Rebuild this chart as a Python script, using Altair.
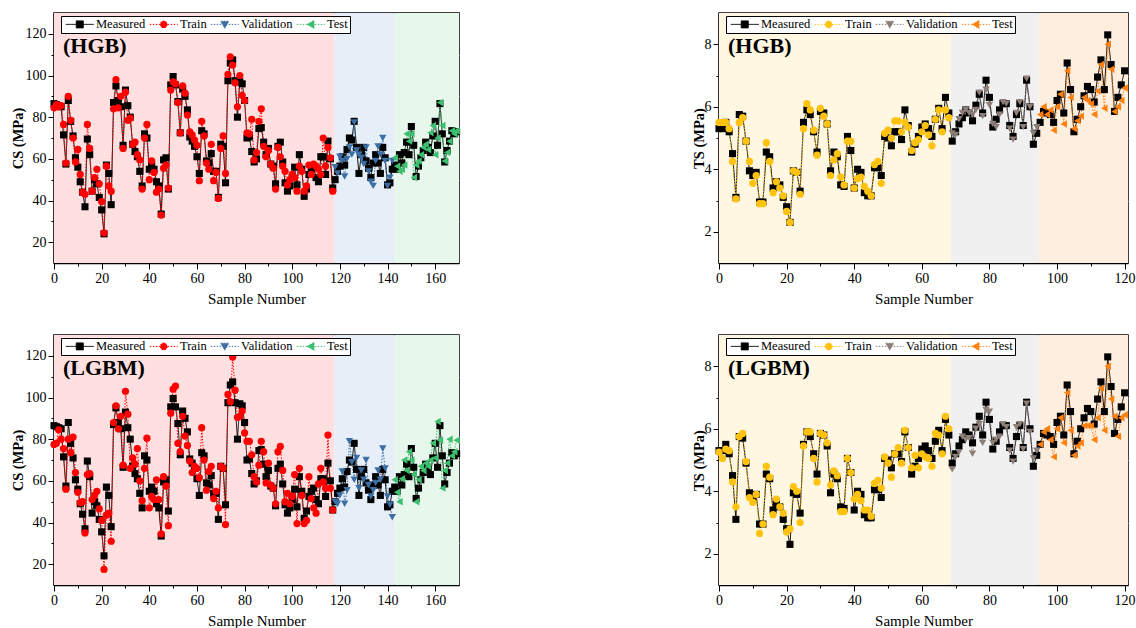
import altair as alt
import pandas as pd

# ---------------- data ----------------
SERIES = ["Measured", "Train", "Validation", "Test"]
REGIONS = ["Train", "Validation", "Test"]

CS_MEASURED = [
    86.5, 86, 85.5, 85, 71.5, 57.5, 88, 78, 71, 60.5,
    56, 49, 44, 37, 69.5, 62, 44.5, 50, 48, 41.5,
    35.5, 24, 57, 53, 38, 87, 95, 88, 85, 66.5,
    93, 85.5, 80, 67, 63.5, 61, 54, 47, 72, 70,
    55, 57, 55, 49, 47, 33.5, 59.5, 60.5, 45.5, 95.5,
    99.5, 95.5, 87.5, 72.5, 93.5, 90, 83.5, 70.5, 68.5, 66,
    61, 53, 73.5, 72, 59, 58, 62.5, 54, 54, 41.5,
    67, 66, 48.5, 97.5, 106, 107.5, 97.5, 80, 97, 96,
    88, 70, 70.5, 63.5, 58.5, 60, 74.5, 75, 68, 62,
    65, 57.5, 56.5, 48, 66, 68, 58.5, 48.5, 44.5, 47,
    51, 56, 47.5, 62, 55, 42, 45.5, 52.5, 55, 56.5,
    51, 49, 61, 61, 52.5, 68.5, 60, 46, 50, 54,
    56.5, 61, 57, 64.5, 70, 69, 78, 65.5, 53, 62,
    65.5, 59, 55.5, 51, 58, 62, 58, 53, 65.5, 60.5,
    47.5, 48.5, 55, 57, 55, 62, 58, 63, 68, 62,
    75.5, 66.5, 51.5, 56.5, 60.5, 64, 68, 65.5, 63, 71,
    78, 66.5, 86.5, 72, 58.5, 64, 68.5, 73.5, 72, 73,
]
CS_HGB = [
    84.5, 86, 85, 85.5, 76.5, 58, 90, 78.5, 70, 58.5,
    64.5, 52.5, 44, 43, 76.5, 65, 44.5, 51, 55, 48,
    39.5, 24.5, 56.5, 47, 44.5, 84, 98, 84.5, 90, 65,
    92, 78.5, 79.5, 67, 68, 62, 59.5, 45.5, 70, 76.5,
    50, 59, 53.5, 44, 45.5, 33, 55.5, 57, 46, 93,
    97, 96, 87, 72.5, 95, 91.5, 81, 73, 71.5, 69,
    66.5, 49.5, 78, 71, 58, 55, 67, 49.5, 53.5, 41,
    65, 71, 53, 100.5, 109, 105, 96.5, 85, 100, 90.5,
    88, 72.5, 72, 79, 59.5, 63, 78, 84, 66, 61,
    64, 57.5, 55.5, 45.5, 65.5, 61, 56.5, 54, 47.5, 50,
    52.5, 51, 44.5, 56.5, 54, 44.5, 47, 57, 52.5, 57.5,
    56.5, 55, 52.5, 70, 56.5, 65.5, 60.5, 44.5, 56, 53,
    61, 59, 51.5, 60, 65.5, 62, 77.5, 64, 62, 60.5,
    57.5, 65.5, 54, 49, 47, 59, 66, 62, 70, 59,
    47, 51, 59, 60.5, 56.5, 54, 55, 57, 72, 68.5,
    72, 51, 57, 59, 62, 65.5, 67, 64.5, 72.5, 76,
    62, 70, 87, 76, 59, 63, 68.5, 73.5, 72, 73.5,
]
CS_LGBM = [
    77.5, 78, 84.5, 80, 75.5, 56, 80, 73.5, 81, 64,
    54.5, 49.5, 50, 35, 63, 63.5, 51, 53, 55, 46.5,
    41, 17.5, 43.5, 44.5, 31, 88, 96, 85, 91, 67.5,
    103, 92, 66, 71, 68, 75.5, 60, 50.5, 66, 80.5,
    47, 52.5, 51, 60.5, 51, 34.5, 62, 57.5, 38.5, 92.5,
    104, 105.5, 78, 74, 91, 81.5, 77, 69.5, 64, 67,
    66, 61.5, 85.5, 70, 55.5, 64.5, 67, 51.5, 55, 47,
    67, 66, 39, 101.5, 98, 119.5, 103.5, 90.5, 91, 93.5,
    83, 79, 79, 72.5, 62, 59.5, 67.5, 79, 74, 59,
    68.5, 58, 56.5, 49, 74, 76.5, 65, 50, 54, 49,
    52.5, 63, 39.5, 66, 53, 39.5, 41, 62, 51.5, 47,
    44.5, 58.5, 66, 59.5, 56.5, 82, 56.5, 46, 50, 49,
    53, 64.5, 49, 55.5, 79, 69, 60.5, 71, 56.5, 65,
    60.5, 70, 58, 52.5, 55.5, 59, 65, 60.5, 75.5, 66,
    52.5, 48.5, 42.5, 60.5, 54.5, 50, 61, 70, 65, 74,
    70, 63, 50, 60.5, 67, 65, 68.5, 67, 70, 78,
    71, 88.5, 79.5, 56.5, 65, 68.5, 80, 72, 74, 79.5,
]
CS_BOUNDS = [0, 117.7, 143, 170]

TS_MEASURED = [
    5.3, 5.3, 5.5, 5.2, 4.5, 3.1, 5.75, 5.7, 4.9, 3.95,
    3.8, 3.9, 2.95, 2.95, 4.55, 4.4, 3.4, 3.6, 3.5, 3.1,
    2.8, 2.3, 3.95, 3.9, 3.3, 5.5, 5.9, 5.75, 5.2, 4.55,
    5.85, 5.8, 5.45, 3.95, 4.55, 4.4, 3.5, 3.45, 5.05, 4.6,
    3.4, 4.0, 3.9, 3.25, 3.15, 3.15, 4.05, 4.05, 3.8, 5.05,
    5.0, 4.75, 5.2, 5.2, 4.95, 5.9, 5.4, 4.55, 4.8, 5.05,
    5.35, 5.45, 5.3, 5.05, 5.6, 5.95, 5.3, 6.3, 5.8, 4.9,
    5.2, 5.45, 5.65, 5.9, 5.8, 5.55, 6.05, 6.4, 5.8, 6.85,
    6.3, 5.35, 5.6, 5.9, 6.1, 6.1, 5.4, 5.05, 5.75, 6.1,
    5.4, 6.85, 6.0, 4.8, 5.15, 5.5, 5.85, 5.8, 5.75, 5.5,
    6.2, 6.4, 5.8, 7.4, 6.55, 5.2, 5.6, 6.0, 6.35, 6.65,
    6.55, 6.15, 6.95, 7.5, 6.55, 8.3, 7.35, 5.85, 6.3, 6.7,
    7.15,
]
TS_HGB = [
    5.5, 5.5, 5.5, 5.3, 4.25, 3.05, 5.5, 5.65, 4.9, 4.25,
    3.55, 3.8, 2.9, 2.9, 4.85, 4.25, 3.25, 3.6, 3.4, 3.15,
    2.65, 2.3, 3.95, 3.9, 3.2, 5.3, 6.1, 5.9, 5.25, 4.45,
    5.95, 5.7, 5.45, 3.8, 4.3, 4.5, 3.75, 3.5, 4.9, 4.9,
    3.4, 3.7, 3.75, 3.45, 3.3, 3.15, 4.15, 4.25, 3.55, 5.15,
    5.25, 5.0, 5.55, 5.55, 5.2, 5.5, 5.35, 4.6, 4.85, 4.95,
    5.2, 5.4, 5.1, 4.75, 5.6, 5.9, 5.2, 5.9, 5.65, 5.15,
    5.1, 5.6, 5.8, 5.9, 5.8, 5.75, 5.9, 6.45, 5.7, 6.55,
    6.05, 5.45, 5.35, 5.75, 6.15, 6.1, 5.3, 4.95, 5.8, 6.15,
    5.35, 6.9, 6.0, 5.15, 5.35, 5.75, 6.0, 5.75, 5.9, 5.25,
    6.0, 6.4, 5.45, 7.15, 6.3, 5.3, 5.55, 5.7, 6.3, 6.2,
    6.1, 5.75, 6.5, 7.35, 5.95, 8.0, 7.2, 5.85, 6.0, 6.2,
    6.6,
]
TS_LGBM = [
    5.25, 5.05, 5.35, 5.3, 4.3, 3.5, 5.75, 5.85, 4.95, 3.8,
    3.65, 3.9, 2.65, 2.95, 4.8, 4.45, 3.25, 3.75, 3.5, 3.3,
    2.7, 2.8, 4.15, 4.0, 3.0, 5.45, 5.9, 5.9, 5.05, 4.3,
    5.85, 5.8, 5.55, 4.2, 4.65, 4.5, 3.35, 3.35, 5.05, 4.6,
    3.75, 3.9, 3.7, 3.4, 3.4, 3.2, 4.25, 4.35, 4.1, 5.1,
    4.9, 4.45, 5.2, 5.4, 4.9, 5.95, 5.4, 4.75, 5.15, 4.75,
    5.2, 5.1, 5.05, 4.8, 5.85, 5.8, 5.2, 6.4, 6.0, 4.7,
    5.1, 5.25, 5.75, 5.65, 5.7, 5.2, 6.0, 6.15, 5.55, 6.6,
    6.55, 5.55, 5.65, 5.75, 6.15, 6.05, 5.3, 4.95, 6.05, 6.15,
    5.35, 6.8, 5.9, 5.05, 5.3, 5.5, 5.9, 6.0, 5.65, 5.1,
    6.0, 6.35, 5.55, 7.15, 5.95, 5.15, 5.45, 5.55, 6.1, 6.1,
    6.1, 5.65, 6.35, 7.3, 5.95, 8.0, 6.95, 6.4, 5.75, 6.35,
    6.45,
]
TS_BOUNDS = [0, 68.6, 94.6, 121]

CS_COLORS = ["#000000", "#FF0000", "#3A6EA5", "#3CBF6E"]
TS_COLORS = ["#000000", "#FFC20E", "#8C7D77", "#FF800E"]
CS_BG = ["#FFDFDF", "#E6EEF8", "#E8F7EC"]
TS_BG = ["#FFF7E1", "#F0F0F0", "#FEEEDD"]

FONT = "Liberation Serif"
H = 250

MARKERS = ["square", "circle", "triangle-down", "triangle-left"]
MARKER_SIZES = [50, 56, 60, 60]
# legend glyphs: a short line through the marker, as in the original legend
LEGEND_PATHS = [
    "M-4,0H4M-1,-1H1V1H-1Z",
    "M-4,0H4M1,0A1,1,0,1,1,-1,0A1,1,0,1,1,1,0Z",
    "M-4,0H4M-1.15,-0.9H1.15L0,1.1Z",
    "M-4,0H4M-1.05,0L0.95,-1.15V1.15Z",
]
DASHES = [[1, 0], [1.5, 1.5], [1.5, 1.5], [1.5, 1.5]]


def axis(values, major, title, title_pos, bold, is_y):
    test = f"datum.value % {major} === 0"
    kw = dict(
        values=values,
        labelExpr=f"{test} ? datum.label : ''",
        tickSize={"condition": {"test": test, "value": 6}, "value": 3},
        gridOpacity={"condition": {"test": test, "value": 0}, "value": 1},
        grid=True, gridColor="#cfcfcf", gridDash=[2, 2], gridWidth=1,
        title=title, titleFont=FONT, titleColor="black",
        titleFontSize=14.5 if is_y else 15,
        titleFontWeight="bold" if bold else "normal",
        titleBaseline="middle",
        labelFont=FONT, labelFontSize=14, labelColor="black",
        labelOverlap=False, labelFlush=False, labelPadding=2,
        domainColor="black", domainWidth=1.5,
        tickColor="black", tickWidth=1,
    )
    if is_y:
        kw["titleX"] = title_pos
    else:
        kw["titleY"] = title_pos
    return alt.Axis(**kw)


RES = dict(color="independent", fill="independent", shape="independent",
           stroke="independent", strokeDash="independent", size="independent")


def panel(measured, pred, bounds, colors, bg, ytitle, ydomain, yvals, ymajor,
          xdomain, xvals, model_label, width, ytitle_x):
    n = len(measured)
    idx = list(range(n))
    split = [REGIONS[0] if i < bounds[1] else (REGIONS[1] if i < bounds[2] else REGIONS[2]) for i in idx]
    meas = pd.DataFrame({"Sample": idx, "Value": measured, "Series": ["Measured"] * n})
    prd = pd.DataFrame({"Sample": idx, "Value": pred, "Series": split})
    pts = pd.concat([meas, prd], ignore_index=True)
    regions = pd.DataFrame({"start": bounds[:-1], "end": bounds[1:], "Region": REGIONS})

    xscale = alt.Scale(domain=xdomain, nice=False, zero=False)
    yscale = alt.Scale(domain=ydomain, nice=False, zero=False)
    xaxis = axis(xvals, 20, "Sample Number", 35, False, False)
    yaxis = axis(yvals, ymajor, ytitle, ytitle_x, True, True)
    X = alt.X("Sample:Q", scale=xscale, axis=xaxis)
    Y = alt.Y("Value:Q", scale=yscale, axis=yaxis)

    legend = alt.Legend(
        title=None, orient="none", legendX=7, legendY=3, direction="horizontal",
        columns=4, labelFont=FONT, labelFontSize=12.5, labelColor="black",
        symbolSize=49, symbolOffset=10.5, labelOffset=10, columnPadding=1,
        padding=2, strokeColor="black", fillColor="white", cornerRadius=0,
        rowPadding=0, symbolStrokeWidth=1, symbolOpacity=1, symbolFillColor="black",
    )

    rects = alt.Chart(regions).mark_rect().encode(
        x=alt.X("start:Q", scale=xscale, axis=xaxis),
        x2="end:Q",
        y=alt.value(0),
        y2=alt.value(H),
        fill=alt.Fill("Region:N", scale=alt.Scale(domain=REGIONS, range=bg), legend=None),
    )
    lines = alt.Chart(pts).mark_line(strokeWidth=1).encode(
        x=X, y=Y,
        stroke=alt.Stroke("Series:N", scale=alt.Scale(domain=SERIES, range=colors), legend=None),
        strokeDash=alt.StrokeDash("Series:N", scale=alt.Scale(domain=SERIES, range=DASHES), legend=None),
    )
    points = alt.Chart(pts).mark_point(filled=True, opacity=1, strokeWidth=0).encode(
        x=X, y=Y,
        color=alt.Color("Series:N", scale=alt.Scale(domain=SERIES, range=colors), legend=None),
        shape=alt.Shape("Series:N", scale=alt.Scale(domain=SERIES, range=MARKERS), legend=None),
        size=alt.Size("Series:N", scale=alt.Scale(domain=SERIES, range=MARKER_SIZES), legend=None),
    )
    # layer with no rows: only carries the legend (line + marker glyphs)
    legend_layer = alt.Chart(pts).transform_filter("datum.Sample < 0").mark_point(
        filled=True, strokeWidth=1, size=49
    ).encode(
        x=X, y=Y,
        color=alt.Color("Series:N", scale=alt.Scale(domain=SERIES, range=colors), legend=legend),
        stroke=alt.Stroke("Series:N", scale=alt.Scale(domain=SERIES, range=colors), legend=legend),
        shape=alt.Shape("Series:N", scale=alt.Scale(domain=SERIES, range=LEGEND_PATHS), legend=legend),
        strokeDash=alt.StrokeDash("Series:N", scale=alt.Scale(domain=SERIES, range=DASHES), legend=legend),
    )
    label = alt.Chart(pd.DataFrame({"label": [model_label]})).mark_text(
        align="left", baseline="middle", font=FONT, fontSize=22, fontWeight="bold", color="black"
    ).encode(x=alt.value(9), y=alt.value(33), text="label:N")

    return (
        alt.layer(rects, lines, points, legend_layer, label)
        .resolve_scale(**RES)
        .properties(width=width, height=H)
    )


cs_y = dict(ytitle="CS (MPa)", ydomain=[10, 130], yvals=list(range(20, 121, 10)), ymajor=20,
            xdomain=[0, 170], xvals=list(range(0, 161, 10)), width=405, ytitle_x=-36)
ts_y = dict(ytitle="TS (MPa)", ydomain=[1, 9], yvals=list(range(2, 9)), ymajor=2,
            xdomain=[0, 121], xvals=list(range(0, 121, 10)), width=409, ytitle_x=-20)
p1 = panel(CS_MEASURED, CS_HGB, CS_BOUNDS, CS_COLORS, CS_BG, model_label="(HGB)", **cs_y)
p2 = panel(TS_MEASURED, TS_HGB, TS_BOUNDS, TS_COLORS, TS_BG, model_label="(HGB)", **ts_y)
p3 = panel(CS_MEASURED, CS_LGBM, CS_BOUNDS, CS_COLORS, CS_BG, model_label="(LGBM)", **cs_y)
p4 = panel(TS_MEASURED, TS_LGBM, TS_BOUNDS, TS_COLORS, TS_BG, model_label="(LGBM)", **ts_y)

top = alt.hconcat(p1, p2, spacing=229).resolve_scale(**RES)
bottom = alt.hconcat(p3, p4, spacing=229).resolve_scale(**RES)
chart = (
    alt.vconcat(top, bottom, spacing=27)
    .resolve_scale(**RES)
    .properties(padding={"left": 9, "top": 12, "right": 0, "bottom": 0}, background="white")
    .configure(font=FONT)
    .configure_view(stroke="black", strokeWidth=1.5)
)

chart.save("out.html", embed_options={"renderer": "svg", "actions": False})
